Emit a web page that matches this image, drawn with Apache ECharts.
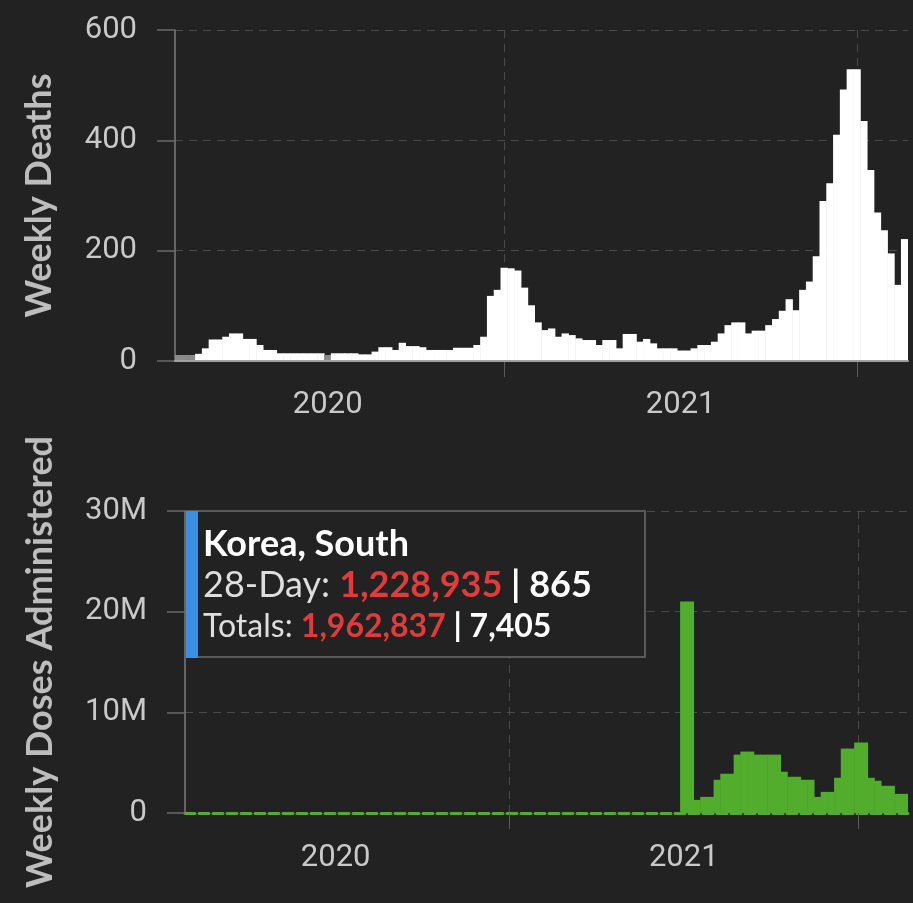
<!DOCTYPE html>
<html>
<head>
<meta charset="utf-8">
<script src="https://cdn.jsdelivr.net/npm/echarts@6/dist/echarts.min.js"></script>
<style>
html,body{margin:0;padding:0;background:#222;}
#c{width:913px;height:903px;}
</style>
</head>
<body>
<div id="c"></div>
<script>
// ---------- data ----------
const firstWeek = '2020-01-27';
const weekCount = 108;

const weeklyDeaths = [
  0, 0, 0, 13, 23, 39, 39, 44, 50, 50,
  40, 40, 29, 20, 20, 14, 14, 14, 14, 14,
  14, 14, 0, 14, 14, 14, 14, 12, 12, 17,
  25, 25, 20, 33, 27, 27, 25, 20, 20, 20,
  20, 24, 24, 24, 29, 44, 118, 129, 169, 168,
  164, 133, 101, 70, 56, 59, 44, 50, 47, 41,
  38, 38, 29, 38, 38, 23, 49, 49, 35, 40,
  32, 23, 23, 23, 19, 19, 23, 29, 29, 35,
  50, 65, 70, 70, 50, 55, 55, 65, 76, 91,
  112, 92, 129, 144, 190, 290, 322, 410, 492, 529,
  529, 435, 346, 269, 237, 195, 138, 221
];

// weekly doses administered, in millions
const weeklyDosesM = [
  0, 0, 0, 0, 0, 0, 0, 0, 0, 0,
  0, 0, 0, 0, 0, 0, 0, 0, 0, 0,
  0, 0, 0, 0, 0, 0, 0, 0, 0, 0,
  0, 0, 0, 0, 0, 0, 0, 0, 0, 0,
  0, 0, 0, 0, 0, 0, 0, 0, 0, 0,
  0, 0, 0, 0, 0, 0, 0, 0, 0, 0,
  0, 0, 0, 0, 0, 0, 0, 0, 0, 0,
  0, 0, 0, 0, 21.0, 21.0, 1.3, 1.6, 1.6, 3.3,
  3.9, 3.9, 5.8, 6.1, 6.1, 5.8, 5.8, 5.8, 5.8, 4.1,
  3.6, 3.6, 3.3, 3.3, 1.6, 2.1, 2.1, 3.5, 6.4, 6.4,
  7.0, 7.0, 3.5, 3.2, 2.7, 2.7, 1.9, 1.9
];

const deathTicks = { min: 0, max: 600, interval: 200 };
const doseTicks = { min: 0, max: 30, interval: 10 }; // millions

const tipCountry = 'Korea, South';
const tip28Label = '28-Day:';
const tip28Doses = '1,228,935';
const tip28Deaths = '865';
const tipTotLabel = 'Totals:';
const tipTotDoses = '1,962,837';
const tipTotDeaths = '7,405';

// ---------- categories (week start dates) ----------
const weeks = [];
(function () {
  const d0 = new Date(firstWeek + 'T00:00:00Z');
  for (let i = 0; i < weekCount; i++) {
    const d = new Date(d0.getTime() + i * 7 * 86400000);
    weeks.push(d.toISOString().slice(0, 10));
  }
})();
function weekContains(dateStr, month, day) {
  const d = new Date(dateStr + 'T00:00:00Z');
  for (let k = 0; k < 7; k++) {
    const e = new Date(d.getTime() + k * 86400000);
    if (e.getUTCMonth() === month && e.getUTCDate() === day) return true;
  }
  return false;
}
const isYearTick = (idx, val) => weekContains(weeks[idx], 0, 1);
const isMidYear = (idx, val) => weekContains(weeks[idx], 6, 1);

// ---------- styles ----------
const BG = '#222222';
const LABEL = '#c9c9c9';
const NAME = '#bdbdbd';
const GRID = '#4b4b4b';
const AXIS = '#7c7c7c';
const GREEN = '#52ad2d';
const ZERO_GRAY = '#8a8a8a';

function xAxisBase(gridIndex, margin) {
  return {
    gridIndex: gridIndex,
    type: 'category',
    data: weeks,
    boundaryGap: true,
    axisLine: { show: false },
    axisTick: { show: true, alignWithLabel: true, interval: isYearTick, length: 16, lineStyle: { color: '#5a5a5a' } },
    splitLine: { show: true, alignWithLabel: true, interval: isYearTick, lineStyle: { color: GRID, type: [8, 6] } },
    axisLabel: {
      interval: isMidYear,
      formatter: v => v.slice(0, 4),
      color: LABEL, fontSize: 31, fontFamily: 'Roboto', margin: margin
    }
  };
}
function yAxisBase(gridIndex, t, name, nameGap, fmt) {
  return {
    gridIndex: gridIndex,
    type: 'value',
    min: t.min, max: t.max, interval: t.interval,
    name: name, nameLocation: 'middle', nameGap: nameGap,
    nameTextStyle: { color: NAME, fontSize: 36, fontWeight: 'bold', fontFamily: 'Lato' },
    axisLine: { show: true, lineStyle: { color: AXIS, width: 1.5 } },
    axisTick: { show: true, length: 18, lineStyle: { color: '#6a6a6a', width: 1.5 } },
    splitLine: { show: true, lineStyle: { color: GRID, type: [8, 6] } },
    axisLabel: { color: LABEL, fontSize: 31, fontFamily: 'Roboto', margin: 38, formatter: fmt }
  };
}

// zero-death weeks drawn as small gray blocks
const deathItems = weeklyDeaths.map(v => v === 0 ? { value: v, itemStyle: { color: ZERO_GRAY } } : v);

const option = {
  backgroundColor: BG,
  animation: false,
  grid: [
    { left: 175, right: 5, top: 30, height: 331 },
    { left: 185, right: 5, top: 511, height: 302 }
  ],
  xAxis: [
    xAxisBase(0, 29),
    {
      gridIndex: 0, type: 'category', data: weeks, position: 'bottom', z: 5,
      axisLine: { show: true, lineStyle: { color: '#a0a0a0', width: 2 } },
      axisTick: { show: false }, axisLabel: { show: false }, splitLine: { show: false }
    },
    Object.assign(xAxisBase(1, 30), {
      axisLine: { show: true, lineStyle: { color: GREEN, width: 3, type: [10, 4] } }
    })
  ],
  yAxis: [
    yAxisBase(0, deathTicks, 'Weekly Deaths', 118, v => String(v)),
    yAxisBase(1, doseTicks, 'Weekly Doses Administered', 127, v => v === 0 ? '0' : v + 'M')
  ],
  series: [
    {
      type: 'bar', xAxisIndex: 0, yAxisIndex: 0,
      data: deathItems,
      barWidth: '108%', barMinHeight: 6,
      itemStyle: { color: '#ffffff' }
    },
    {
      type: 'bar', xAxisIndex: 2, yAxisIndex: 1,
      data: weeklyDosesM,
      barWidth: '108%',
      itemStyle: { color: GREEN }
    }
  ],
  graphic: [
    {
      type: 'rect', z: 100,
      shape: { x: 187, y: 511, width: 458, height: 146 },
      style: { fill: '#222222', stroke: '#595959', lineWidth: 2 }
    },
    {
      type: 'rect', z: 101,
      shape: { x: 186, y: 511, width: 12, height: 147 },
      style: { fill: '#3b8fe3' }
    },
    {
      type: 'text', z: 102, x: 203, y: 544,
      style: { text: tipCountry, fill: '#ffffff', fontSize: 36, fontWeight: 'bold', fontFamily: 'Lato', verticalAlign: 'middle' }
    },
    {
      type: 'text', z: 102, x: 203, y: 585,
      style: {
        text: '{g|' + tip28Label + ' }{r|' + tip28Doses + '}{w| | ' + tip28Deaths + '}',
        verticalAlign: 'middle',
        rich: {
          g: { fill: '#dedede', fontSize: 36, fontFamily: 'Lato' },
          r: { fill: '#e13b3b', fontSize: 36, fontWeight: 'bold', fontFamily: 'Lato' },
          w: { fill: '#ffffff', fontSize: 36, fontWeight: 'bold', fontFamily: 'Lato' }
        }
      }
    },
    {
      type: 'text', z: 102, x: 203, y: 627,
      style: {
        text: '{g|' + tipTotLabel + ' }{r|' + tipTotDoses + '}{w| | ' + tipTotDeaths + '}',
        verticalAlign: 'middle',
        rich: {
          g: { fill: '#dedede', fontSize: 32, fontFamily: 'Lato' },
          r: { fill: '#e13b3b', fontSize: 32, fontWeight: 'bold', fontFamily: 'Lato' },
          w: { fill: '#ffffff', fontSize: 32, fontWeight: 'bold', fontFamily: 'Lato' }
        }
      }
    }
  ]
};

const chart = echarts.init(document.getElementById('c'), null, { renderer: 'canvas' });
chart.setOption(option);
</script>
</body>
</html>
